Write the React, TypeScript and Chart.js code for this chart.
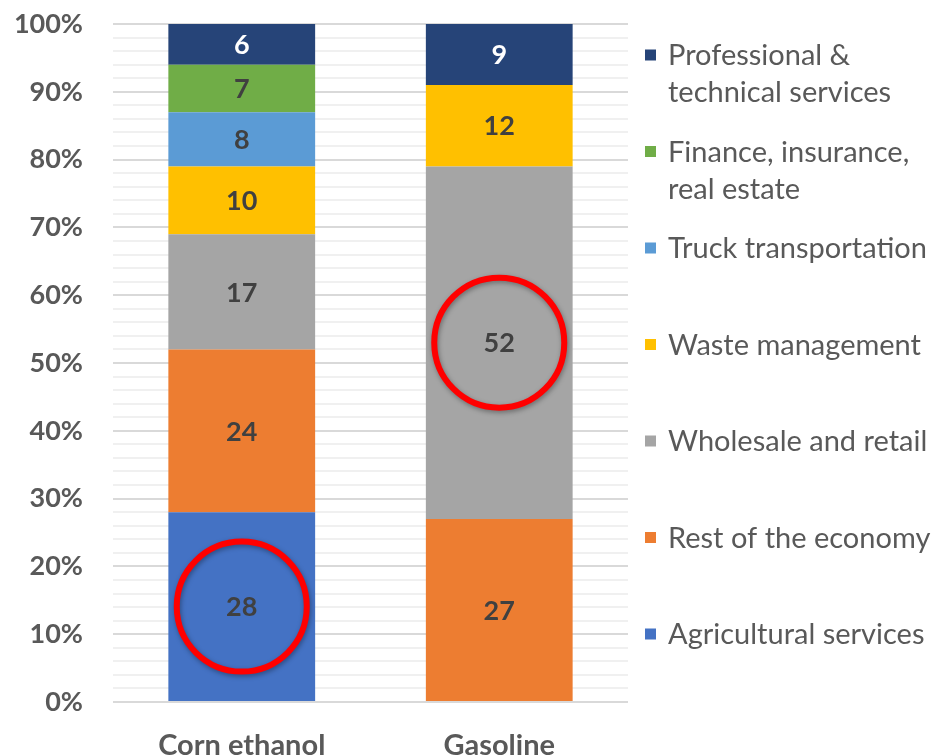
import React, { useEffect, useRef } from 'react';
import { Chart, registerables } from 'chart.js';

Chart.register(...registerables);

const categories = ['Corn ethanol', 'Gasoline'];

const seriesNames = [
  'Agricultural services',
  'Rest of the economy',
  'Wholesale and retail',
  'Waste management',
  'Truck transportation',
  'Finance, insurance,\nreal estate',
  'Professional &\ntechnical services',
];

const agriculturalServices = [28, null];
const restOfEconomy = [24, 27];
const wholesaleRetail = [17, 52];
const wasteManagement = [10, 12];
const truckTransportation = [8, null];
const financeInsurance = [7, null];
const professionalTechnical = [6, 9];

const seriesValues = [
  agriculturalServices,
  restOfEconomy,
  wholesaleRetail,
  wasteManagement,
  truckTransportation,
  financeInsurance,
  professionalTechnical,
];

const seriesColors = ['#4472C4', '#ED7D31', '#A5A5A5', '#FFC000', '#5B9BD5', '#70AD47', '#264478'];
const labelColors = ['#404040', '#404040', '#404040', '#404040', '#404040', '#404040', '#FFFFFF'];

const yMin = 0;
const yMax = 100;
const yMinorStep = 2;
const yMajorStep = 10;

// highlighted segments: [category index, series index]
const highlighted: [number, number][] = [
  [0, 0],
  [1, 2],
];

const FONT = 'Lato, "Open Sans", sans-serif';

const dataLabelPlugin = {
  id: 'dataLabels',
  afterDatasetsDraw(chart: any) {
    const { ctx } = chart;
    ctx.save();
    ctx.font = `bold 27px ${FONT}`;
    ctx.textAlign = 'center';
    ctx.textBaseline = 'middle';
    chart.data.datasets.forEach((ds: any, di: number) => {
      const meta = chart.getDatasetMeta(di);
      meta.data.forEach((bar: any, i: number) => {
        const v = ds.data[i];
        if (v == null) return;
        const { x, y, base } = bar.getProps(['x', 'y', 'base'], true);
        ctx.fillStyle = labelColors[di];
        ctx.fillText(String(v), x, (y + base) / 2 + 1);
      });
    });
    ctx.restore();
  },
};

const circlePlugin = {
  id: 'highlightCircles',
  afterDraw(chart: any) {
    const { ctx } = chart;
    ctx.save();
    highlighted.forEach(([ci, si]) => {
      const bar: any = chart.getDatasetMeta(si).data[ci];
      if (!bar) return;
      const { x, y, base } = bar.getProps(['x', 'y', 'base'], true);
      const cy = (y + base) / 2;
      ctx.shadowColor = 'rgba(0,0,0,0.35)';
      ctx.shadowBlur = 5;
      ctx.shadowOffsetX = 1;
      ctx.shadowOffsetY = 2;
      ctx.strokeStyle = '#FF0000';
      ctx.lineWidth = 6;
      ctx.beginPath();
      ctx.arc(x, cy, 65, 0, Math.PI * 2);
      ctx.stroke();
    });
    ctx.restore();
  },
};

const sideLegendPlugin = {
  id: 'sideLegend',
  afterDraw(chart: any) {
    const { ctx, chartArea } = chart;
    ctx.save();
    ctx.font = `29px ${FONT}`;
    ctx.textBaseline = 'middle';
    ctx.textAlign = 'left';
    const n = seriesNames.length;
    const step = 96.5;
    for (let k = 0; k < n; k++) {
      const si = n - 1 - k;
      const y = chartArea.top + 31 + k * step;
      ctx.fillStyle = seriesColors[si];
      ctx.fillRect(chartArea.right + 17, y - 5.5, 11, 11);
      ctx.fillStyle = '#595959';
      seriesNames[si].split('\n').forEach((line, j) => {
        ctx.fillText(line, chartArea.right + 40, y + 1 + j * 37);
      });
    }
    ctx.restore();
  },
};

export default function App() {
  const ref = useRef<HTMLCanvasElement>(null);
  useEffect(() => {
    const chart = new Chart(ref.current!, {
      type: 'bar',
      data: {
        labels: categories,
        datasets: seriesNames.map((name, i) => ({
          label: name,
          data: seriesValues[i],
          backgroundColor: seriesColors[i],
          borderWidth: 0,
          categoryPercentage: 1,
          barPercentage: 0.57,
        })),
      },
      options: {
        animation: false,
        responsive: false,
        layout: { padding: { top: 24, right: 312, left: 0, bottom: 0 } },
        plugins: {
          legend: { display: false },
          tooltip: { enabled: false },
        },
        scales: {
          x: {
            stacked: true,
            grid: { display: false },
            border: { display: false },
            ticks: {
              color: '#595959',
              font: { family: FONT, size: 29, weight: 'bold' },
              padding: 18,
            },
            afterFit: (s: any) => {
              s.height = 53;
              s.paddingLeft = 0;
              s.paddingRight = 0;
            },
          },
          y: {
            stacked: true,
            min: yMin,
            max: yMax,
            border: { display: false },
            grid: {
              drawTicks: false,
              lineWidth: 2,
              color: (c: any) => (c.tick && c.tick.value % yMajorStep === 0 ? '#D9D9D9' : '#F0F0F0'),
            },
            ticks: {
              stepSize: yMinorStep,
              autoSkip: false,
              padding: 30,
              color: '#595959',
              font: { family: FONT, size: 27, weight: 'bold' },
              callback: (v: any) => (Number(v) % yMajorStep === 0 ? `${v}%` : ''),
            },
            afterFit: (s: any) => {
              s.width = 113;
              s.paddingTop = 0;
              s.paddingBottom = 0;
            },
          },
        },
      },
      plugins: [dataLabelPlugin, circlePlugin, sideLegendPlugin],
    });
    return () => chart.destroy();
  }, []);
  return (
    <div style={{ position: 'absolute', left: 0, top: 0, width: 940, height: 755, background: '#fff' }}>
      <canvas ref={ref} width={940} height={755} style={{ display: 'block' }} />
    </div>
  );
}
